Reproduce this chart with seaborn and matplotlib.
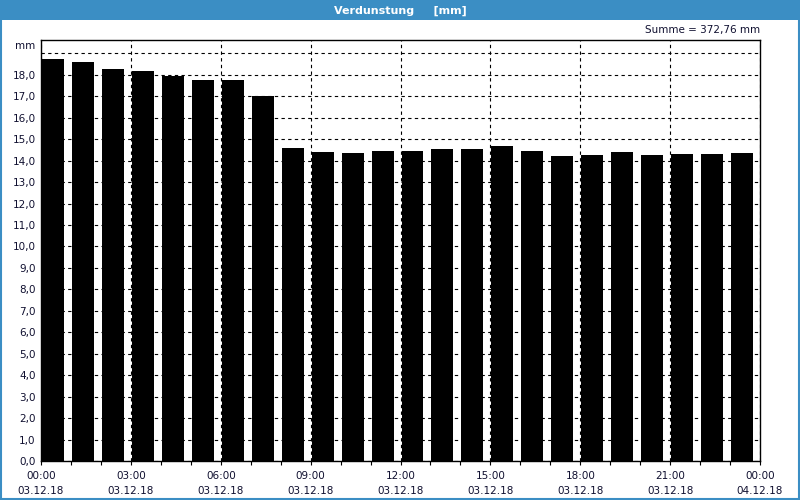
import matplotlib
matplotlib.use('Agg')
import matplotlib.pyplot as plt
import matplotlib.patches as mpatches
import pandas as pd
import seaborn as sns

#%% Data
hours = list(range(24))
evaporation_mm = [18.73, 18.59, 18.27, 18.17, 17.94, 17.75, 17.75, 17.01,
                  14.59, 14.40, 14.35, 14.45, 14.45, 14.54, 14.54, 14.68,
                  14.45, 14.21, 14.26, 14.40, 14.26, 14.31, 14.31, 14.35]
tick_times = ['00:00', '03:00', '06:00', '09:00', '12:00', '15:00',
              '18:00', '21:00', '00:00']
tick_dates = ['03.12.18'] * 8 + ['04.12.18']
y_ticks = list(range(20))
total_text = 'Summe = 372,76 mm'

df = pd.DataFrame({'hour': hours, 'mm': evaporation_mm})

#%% Style
sns.set_style('white')
plt.rcParams['font.family'] = ['DejaVu Sans']
txt_col = '#101030'
blue = '#3b8ec4'

fig = plt.figure(figsize=(8, 5), dpi=100)
fig.patch.set_facecolor('white')

# blue title bar and frame
fig.add_artist(mpatches.Rectangle((0, 0.96), 1, 0.04, transform=fig.transFigure,
                                  facecolor=blue, edgecolor='none'))
fig.add_artist(mpatches.Rectangle((0.001, 0.002), 0.998, 0.97, transform=fig.transFigure,
                                  facecolor='none', edgecolor=blue, linewidth=1.5))
fig.text(0.5, 0.979, 'Verdunstung     [mm]', ha='center', va='center',
         color='white', fontsize=8, fontweight='bold')

ax = fig.add_axes([0.05125, 0.078, 0.8988, 0.842])
sns.barplot(data=df, x='hour', y='mm', color='black', saturation=1,
            width=0.733, ax=ax, edgecolor='black', linewidth=0)

# slot layout: bar is placed at the left of every hour slot
ax.set_xlim(-0.4, 23.6)
ax.set_ylim(0, 19.62)

major = [-0.4 + 3 * k for k in range(9)]
minor = [-0.4 + k for k in range(25)]
ax.set_xticks(major)
ax.set_xticklabels([t + '\n' + d for t, d in zip(tick_times, tick_dates)],
                   fontsize=7.5, color=txt_col, linespacing=1.6)
ax.set_xticks(minor, minor=True)
ax.tick_params(axis='x', which='both', direction='out', length=3, width=0.8,
               color='black', pad=4, bottom=True)

ax.set_yticks(y_ticks)
ax.set_yticklabels([f'{v:.1f}'.replace('.', ',') if v < 19 else '' for v in y_ticks],
                   fontsize=7.5, color=txt_col)
ax.tick_params(axis='y', length=0, pad=4)

ax.set_axisbelow(True)
ax.grid(True, which='major', axis='both', color='black', linestyle=(0, (3, 3)),
        linewidth=0.8)
for s in ax.spines.values():
    s.set_visible(True)
    s.set_color('black')
    s.set_linewidth(1)

ax.set_xlabel('')
ax.set_ylabel('')
ax.text(-0.008, 0.986, 'mm', transform=ax.transAxes, ha='right', va='center',
        fontsize=7.5, color=txt_col)
ax.text(1.0, 1.012, total_text, transform=ax.transAxes, ha='right', va='bottom',
        fontsize=7.5, color=txt_col)

fig.savefig('out.png', dpi=100, facecolor=fig.get_facecolor())
